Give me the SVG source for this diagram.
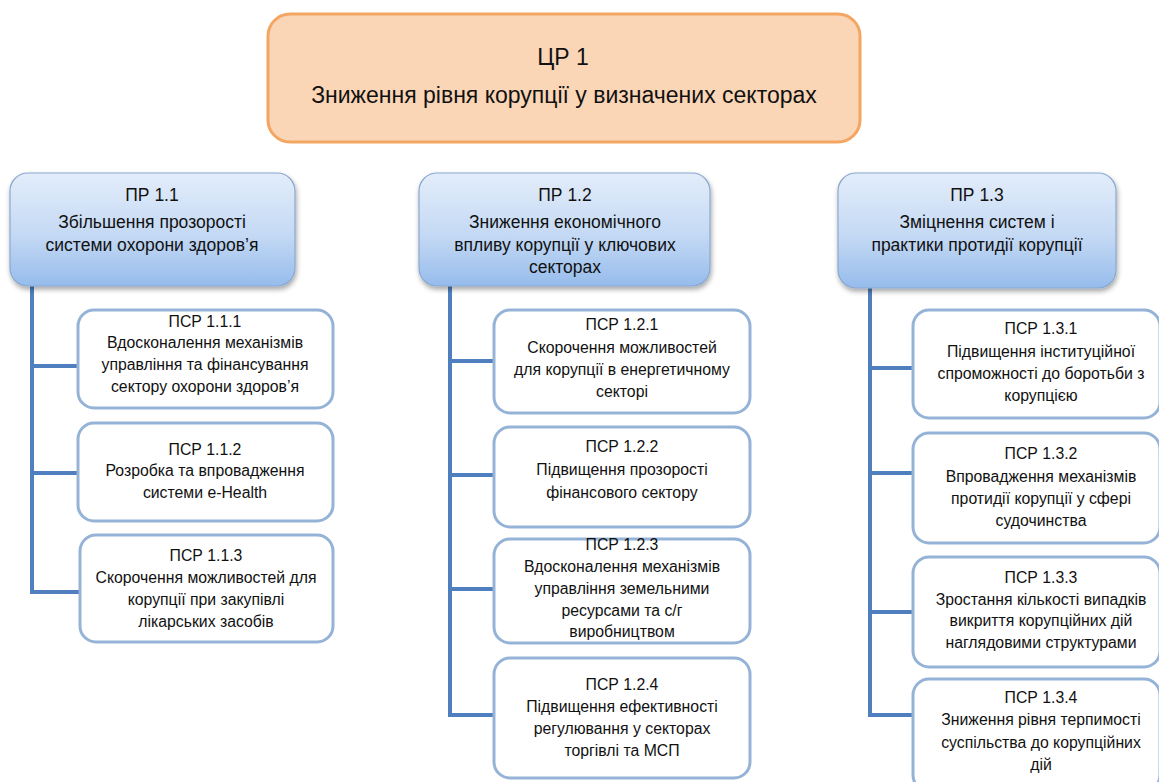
<svg xmlns="http://www.w3.org/2000/svg" width="1159" height="782" viewBox="0 0 1159 782">
  <defs>
    <linearGradient id="prGrad" x1="0" y1="0" x2="0" y2="1">
      <stop offset="0" stop-color="#e3edfa"/>
      <stop offset="0.55" stop-color="#c4d9f4"/>
      <stop offset="1" stop-color="#96bcec"/>
    </linearGradient>
    <filter id="shadow" x="-10%" y="-10%" width="125%" height="130%">
      <feDropShadow dx="1" dy="3" stdDeviation="2.5" flood-color="#000" flood-opacity="0.35"/>
    </filter>
  </defs>
  <style>
    text { font-family: "Liberation Sans", Arial, sans-serif; fill: #111111; text-anchor: middle; }
    .goal { fill: #fbd6b6; stroke: #f3a562; stroke-width: 3; }
    .goal-t { font-size: 23px; }
    .pr { fill: url(#prGrad); stroke: #8aa8cf; stroke-width: 1.2; filter: url(#shadow); }
    .pr-t { font-size: 17.5px; }
    .sub { fill: #ffffff; stroke: #95b3d7; stroke-width: 3; }
    .sub-t { font-size: 15.8px; }
    .conn { fill: none; stroke: #4f7fbe; stroke-width: 4; }
  </style>
  <rect width="1159" height="782" fill="#ffffff"/>

  <!-- connectors -->
  <g id="connectors" class="conn">
    <path d="M32 286 V592 M30 366 H79 M30 473 H79 M30 592 H79"/>
    <path d="M450 286 V715 M448 361 H494 M448 475 H494 M448 589 H494 M448 715 H494"/>
    <path d="M870 288 V715 M868 368 H914 M868 473 H914 M868 612 H914 M868 715 H914"/>
  </g>

  <!-- goal -->
  <g id="cr1">
    <rect class="goal" x="268" y="14" width="592" height="128" rx="22"/>
    <text class="goal-t" x="563" y="65">ЦР 1</text>
    <text class="goal-t" x="564" y="103">Зниження рівня корупції у визначених секторах</text>
  </g>

  <!-- priorities -->
  <g id="pr11">
    <rect class="pr" x="10" y="173" width="285" height="113" rx="18"/>
    <text class="pr-t" x="152" y="201">ПР 1.1</text>
    <text class="pr-t" x="152" y="228">Збільшення  прозорості</text>
    <text class="pr-t" x="152" y="251">системи  охорони  здоров’я</text>
  </g>
  <g id="pr12">
    <rect class="pr" x="419" y="173" width="291" height="113" rx="18"/>
    <text class="pr-t" x="565" y="201">ПР 1.2</text>
    <text class="pr-t" x="565" y="228">Зниження  економічного</text>
    <text class="pr-t" x="565" y="251">впливу корупції у ключових</text>
    <text class="pr-t" x="565" y="273">секторах</text>
  </g>
  <g id="pr13">
    <rect class="pr" x="838" y="173" width="278" height="115" rx="18"/>
    <text class="pr-t" x="977" y="201">ПР 1.3</text>
    <text class="pr-t" x="977" y="228">Зміцнення  систем  і</text>
    <text class="pr-t" x="977" y="251">практики протидії корупції</text>
  </g>

  <!-- sub-priorities, column 1 -->
  <g id="psr111">
    <rect class="sub" x="78" y="310" width="255" height="98" rx="16"/>
    <text class="sub-t" x="205" y="327">ПСР 1.1.1</text>
    <text class="sub-t" x="205" y="348">Вдосконалення  механізмів</text>
    <text class="sub-t" x="205" y="370">управління та фінансування</text>
    <text class="sub-t" x="205" y="392">сектору охорони здоров’я</text>
  </g>
  <g id="psr112">
    <rect class="sub" x="78" y="423" width="255" height="98" rx="16"/>
    <text class="sub-t" x="205" y="455">ПСР 1.1.2</text>
    <text class="sub-t" x="205" y="476">Розробка та впровадження</text>
    <text class="sub-t" x="205" y="498">системи e-Health</text>
  </g>
  <g id="psr113">
    <rect class="sub" x="80" y="535" width="253" height="107" rx="16"/>
    <text class="sub-t" x="206" y="561">ПСР 1.1.3</text>
    <text class="sub-t" x="206" y="583">Скорочення  можливостей для</text>
    <text class="sub-t" x="206" y="605">корупції при закупівлі</text>
    <text class="sub-t" x="206" y="627">лікарських засобів</text>
  </g>

  <!-- sub-priorities, column 2 -->
  <g id="psr121">
    <rect class="sub" x="494" y="310" width="256" height="103" rx="16"/>
    <text class="sub-t" x="622" y="330">ПСР 1.2.1</text>
    <text class="sub-t" x="622" y="353">Скорочення  можливостей</text>
    <text class="sub-t" x="622" y="375">для корупції в енергетичному</text>
    <text class="sub-t" x="622" y="397">секторі</text>
  </g>
  <g id="psr122">
    <rect class="sub" x="494" y="427" width="256" height="100" rx="16"/>
    <text class="sub-t" x="622" y="452">ПСР 1.2.2</text>
    <text class="sub-t" x="622" y="475">Підвищення  прозорості</text>
    <text class="sub-t" x="622" y="498">фінансового  сектору</text>
  </g>
  <g id="psr123">
    <rect class="sub" x="494" y="539" width="256" height="104" rx="16"/>
    <text class="sub-t" x="622" y="550">ПСР 1.2.3</text>
    <text class="sub-t" x="622" y="572">Вдосконалення  механізмів</text>
    <text class="sub-t" x="622" y="594">управління  земельними</text>
    <text class="sub-t" x="622" y="616">ресурсами  та  с/г</text>
    <text class="sub-t" x="622" y="637">виробництвом</text>
  </g>
  <g id="psr124">
    <rect class="sub" x="494" y="658" width="256" height="120" rx="16"/>
    <text class="sub-t" x="622" y="690">ПСР 1.2.4</text>
    <text class="sub-t" x="622" y="712">Підвищення  ефективності</text>
    <text class="sub-t" x="622" y="734">регулювання  у секторах</text>
    <text class="sub-t" x="622" y="756">торгівлі та МСП</text>
  </g>

  <!-- sub-priorities, column 3 -->
  <g id="psr131">
    <rect class="sub" x="913" y="310" width="247" height="108" rx="16"/>
    <text class="sub-t" x="1041" y="334">ПСР 1.3.1</text>
    <text class="sub-t" x="1041" y="357">Підвищення  інституційної</text>
    <text class="sub-t" x="1041" y="379">спроможності до боротьби з</text>
    <text class="sub-t" x="1041" y="401">корупцією</text>
  </g>
  <g id="psr132">
    <rect class="sub" x="913" y="433" width="247" height="110" rx="16"/>
    <text class="sub-t" x="1041" y="459">ПСР 1.3.2</text>
    <text class="sub-t" x="1041" y="482">Впровадження  механізмів</text>
    <text class="sub-t" x="1041" y="504">протидії корупції у сфері</text>
    <text class="sub-t" x="1041" y="526">судочинства</text>
  </g>
  <g id="psr133">
    <rect class="sub" x="913" y="557" width="247" height="110" rx="16"/>
    <text class="sub-t" x="1041" y="583">ПСР 1.3.3</text>
    <text class="sub-t" x="1041" y="605">Зростання  кількості випадків</text>
    <text class="sub-t" x="1041" y="626">викриття корупційних дій</text>
    <text class="sub-t" x="1041" y="648">наглядовими  структурами</text>
  </g>
  <g id="psr134">
    <rect class="sub" x="913" y="679" width="247" height="112" rx="16"/>
    <text class="sub-t" x="1041" y="703">ПСР 1.3.4</text>
    <text class="sub-t" x="1041" y="725">Зниження  рівня  терпимості</text>
    <text class="sub-t" x="1041" y="748">суспільства до корупційних</text>
    <text class="sub-t" x="1041" y="770">дій</text>
  </g>
</svg>
